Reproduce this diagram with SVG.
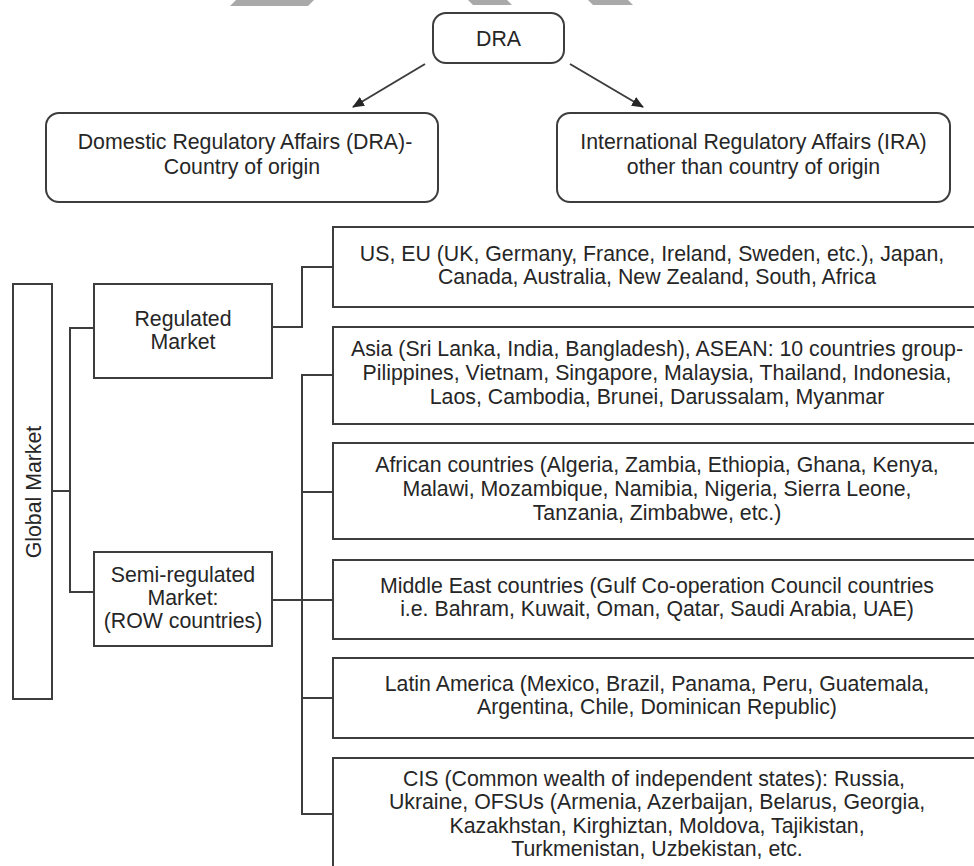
<svg xmlns="http://www.w3.org/2000/svg" width="974" height="866" viewBox="0 0 974 866">
  <style>
    .box { fill: #ffffff; stroke: #3d3d3d; stroke-width: 2; }
    .wire { fill: none; stroke: #3d3d3d; stroke-width: 2; }
    .lbl { font-family: "Liberation Sans", Arial, sans-serif; font-size: 21.3px; fill: #262626; text-anchor: middle; }
    .mark { fill: #a9a9a9; }
  </style>
  <defs>
    <marker id="arrowhead" viewBox="0 0 12 10" refX="11" refY="5" markerWidth="12" markerHeight="10" markerUnits="userSpaceOnUse" orient="auto">
      <path d="M0,0 L12,5 L0,10 Z" fill="#262626"/>
    </marker>
  </defs>

  <rect width="974" height="866" fill="#ffffff"/>

  <!-- faint bars along the top edge -->
  <g id="top-bars">
    <polygon class="mark" points="236,0 314,0 308,6 230,6"/>
    <polygon class="mark" points="468,0 507,0 512,5 473,5"/>
    <polygon class="mark" points="588,0 628,0 633,5 593,5"/>
  </g>

  <!-- connectors -->
  <g id="connectors">
    <line class="wire" x1="425" y1="64" x2="353" y2="107" marker-end="url(#arrowhead)"/>
    <line class="wire" x1="570" y1="64" x2="643" y2="107" marker-end="url(#arrowhead)"/>
    <!-- global market to the two market types -->
    <polyline class="wire" points="52,491 70,491"/>
    <polyline class="wire" points="94,328 70,328 70,592 94,592"/>
    <!-- regulated market branch -->
    <polyline class="wire" points="272,327 302,327 302,267 333,267"/>
    <!-- semi-regulated market branches -->
    <polyline class="wire" points="333,375 302,375 302,814 333,814"/>
    <line class="wire" x1="302" y1="492" x2="333" y2="492"/>
    <line class="wire" x1="272" y1="600" x2="333" y2="600"/>
    <line class="wire" x1="302" y1="698" x2="333" y2="698"/>
  </g>

  <g id="dra">
    <rect class="box" x="433" y="13" width="131" height="50" rx="13"/>
    <text class="lbl" x="498.5" y="46">DRA</text>
  </g>

  <g id="domestic">
    <rect class="box" x="46" y="113" width="392" height="89" rx="13"/>
    <text class="lbl" x="245" y="149">Domestic Regulatory Affairs (DRA)-</text>
    <text class="lbl" x="242" y="174">Country of origin</text>
  </g>

  <g id="international">
    <rect class="box" x="557" y="113" width="393" height="89" rx="13"/>
    <text class="lbl" x="753.5" y="149">International Regulatory Affairs (IRA)</text>
    <text class="lbl" x="753.5" y="174">other than country of origin</text>
  </g>

  <g id="global-market">
    <rect class="box" x="13" y="284" width="39" height="415"/>
    <text class="lbl" transform="translate(41,492) rotate(-90)" x="0" y="0">Global Market</text>
  </g>

  <g id="regulated">
    <rect class="box" x="94" y="284" width="178" height="94"/>
    <text class="lbl" x="183" y="326">Regulated</text>
    <text class="lbl" x="183" y="349">Market</text>
  </g>

  <g id="semi-regulated">
    <rect class="box" x="94" y="552" width="178" height="94"/>
    <text class="lbl" x="183" y="582">Semi-regulated</text>
    <text class="lbl" x="183" y="605">Market:</text>
    <text class="lbl" x="183" y="628">(ROW countries)</text>
  </g>

  <g id="us-eu">
    <rect class="box" x="333" y="227" width="660" height="80"/>
    <text class="lbl" x="652" y="261">US, EU (UK, Germany, France, Ireland, Sweden, etc.), Japan,</text>
    <text class="lbl" x="657" y="284">Canada, Australia, New Zealand, South, Africa</text>
  </g>

  <g id="asia">
    <rect class="box" x="333" y="327" width="660" height="97"/>
    <text class="lbl" x="657" y="356">Asia (Sri Lanka, India, Bangladesh), ASEAN: 10 countries group-</text>
    <text class="lbl" x="657" y="380">Pilippines, Vietnam, Singapore, Malaysia, Thailand, Indonesia,</text>
    <text class="lbl" x="657" y="404">Laos, Cambodia, Brunei, Darussalam, Myanmar</text>
  </g>

  <g id="africa">
    <rect class="box" x="333" y="443" width="660" height="96"/>
    <text class="lbl" x="657" y="472">African countries (Algeria, Zambia, Ethiopia, Ghana, Kenya,</text>
    <text class="lbl" x="657" y="496">Malawi, Mozambique, Namibia, Nigeria, Sierra Leone,</text>
    <text class="lbl" x="657" y="520">Tanzania, Zimbabwe, etc.)</text>
  </g>

  <g id="middle-east">
    <rect class="box" x="333" y="560" width="660" height="79"/>
    <text class="lbl" x="657" y="593">Middle East countries (Gulf Co-operation Council countries</text>
    <text class="lbl" x="657" y="616">i.e. Bahram, Kuwait, Oman, Qatar, Saudi Arabia, UAE)</text>
  </g>

  <g id="latin-america">
    <rect class="box" x="333" y="658" width="660" height="80"/>
    <text class="lbl" x="657" y="691">Latin America (Mexico, Brazil, Panama, Peru, Guatemala,</text>
    <text class="lbl" x="657" y="714">Argentina, Chile, Dominican Republic)</text>
  </g>

  <g id="cis">
    <rect class="box" x="333" y="758" width="660" height="140"/>
    <text class="lbl" x="654" y="786">CIS (Common wealth of independent states): Russia,</text>
    <text class="lbl" x="657" y="809">Ukraine, OFSUs (Armenia, Azerbaijan, Belarus, Georgia,</text>
    <text class="lbl" x="657" y="833">Kazakhstan, Kirghiztan, Moldova, Tajikistan,</text>
    <text class="lbl" x="657" y="856">Turkmenistan, Uzbekistan, etc.</text>
  </g>
</svg>
